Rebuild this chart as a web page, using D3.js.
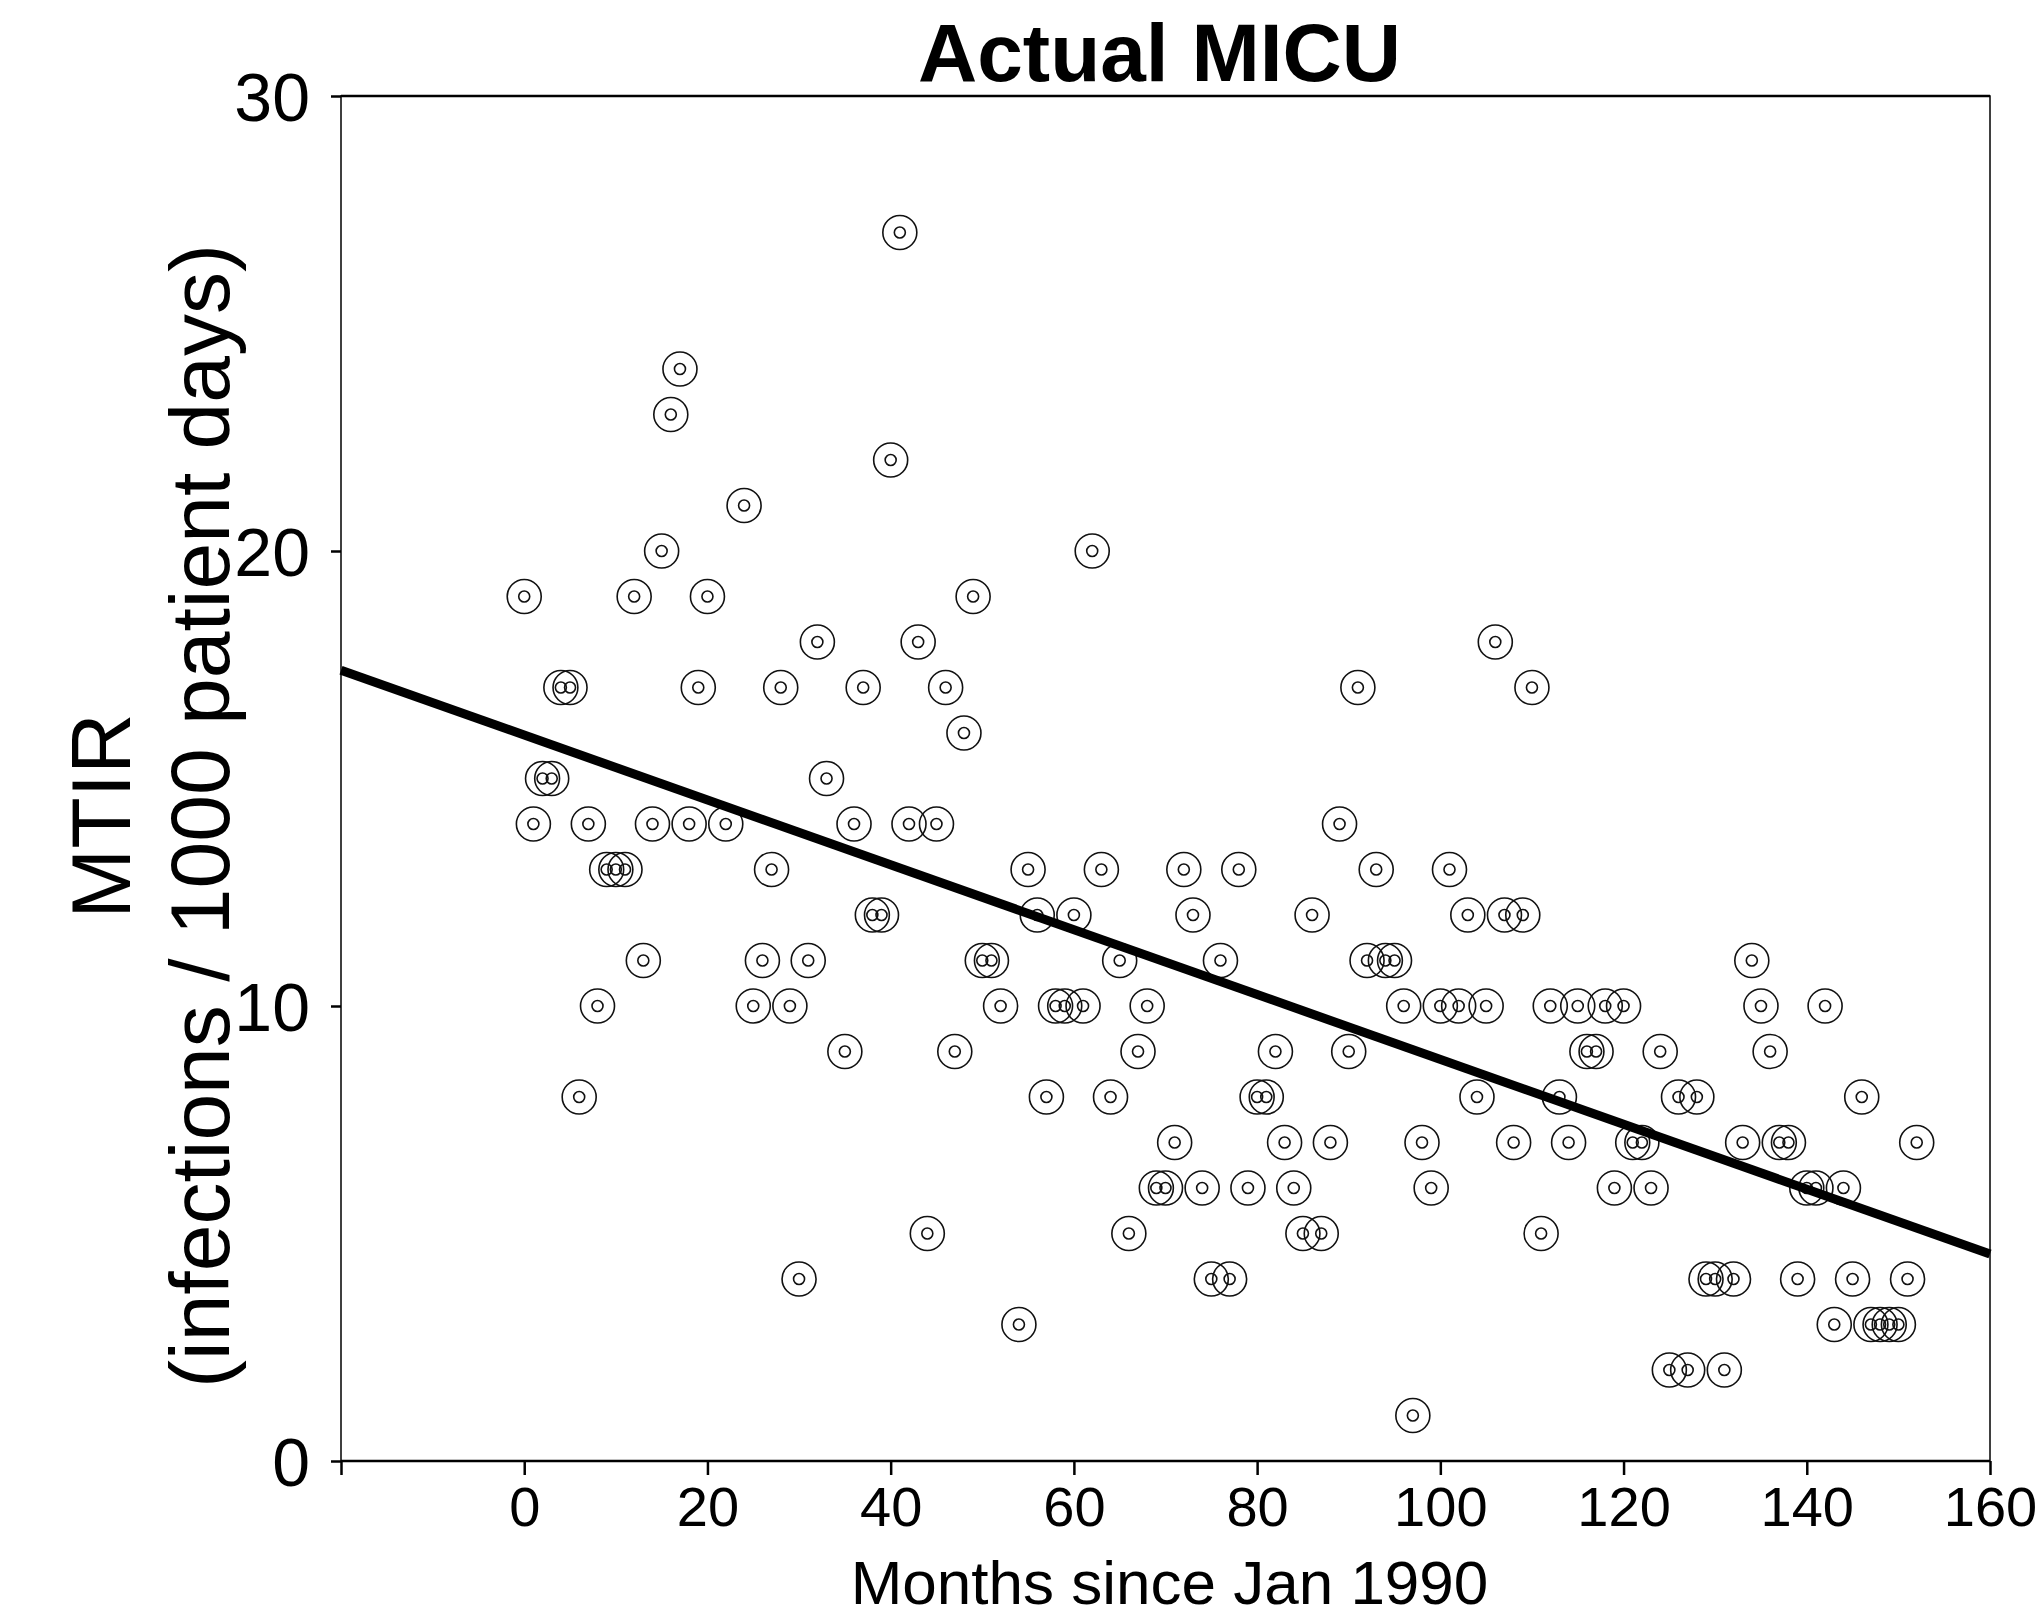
<!DOCTYPE html>
<html>
<head>
<meta charset="utf-8">
<script src="https://cdn.jsdelivr.net/npm/d3@7"></script>
<style>
    body { margin: 0; background: #fff; }
    svg { display: block; font-family: "Liberation Sans", Arial, sans-serif; }
</style>
</head>
<body>
<div class="chart-container"></div>
<script>
// months since Jan 1990 (a few months have no point)
var months = [
    0, 1, 2, 3, 4, 5, 6, 7, 8, 9, 10, 11, 12, 13, 14, 15, 16, 17, 18, 19, 20, 22, 24, 25, 26, 27, 28, 29,
    30, 31, 32, 33, 35, 36, 37, 38, 39, 40, 41, 42, 43, 44, 45, 46, 47, 48, 49, 50, 51, 52, 54, 55, 56, 57, 58, 59,
    60, 61, 62, 63, 64, 65, 66, 67, 68, 69, 70, 71, 72, 73, 74, 75, 76, 77, 78, 79, 80, 81, 82, 83, 84, 85, 86, 87, 88, 89,
    90, 91, 92, 93, 94, 95, 96, 97, 98, 99, 100, 101, 102, 103, 104, 105, 106, 107, 108, 109, 110, 111, 112, 113, 114, 115, 116, 117, 118, 119,
    120, 121, 122, 123, 124, 125, 126, 127, 128, 129, 130, 131, 132, 133, 134, 135, 136, 137, 138, 139, 140, 141, 142, 143, 144, 145, 146, 147, 148, 149,
    150, 151, 152
];
// MTIR, infections / 1000 patient days
var mtir = [
    19, 14, 15, 15, 17, 17, 8, 14, 10, 13, 13, 13, 19, 11, 14, 20, 23, 24, 14, 17, 19, 14, 21, 10, 11, 13, 17, 10,
    4, 11, 18, 15, 9, 14, 17, 12, 12, 22, 27, 14, 18, 5, 14, 17, 9, 16, 19, 11, 11, 10, 3, 13, 12, 8, 10, 10,
    12, 10, 20, 13, 8, 11, 5, 9, 10, 6, 6, 7, 13, 12, 6, 4, 11, 4, 13, 6, 8, 8, 9, 7, 6, 5, 12, 5, 7, 14,
    9, 17, 11, 13, 11, 11, 10, 1, 7, 6, 10, 13, 10, 12, 8, 10, 18, 12, 7, 12, 17, 5, 10, 8, 7, 10, 9, 9, 10, 6,
    10, 7, 7, 6, 9, 2, 8, 2, 8, 4, 4, 2, 4, 7, 11, 10, 9, 7, 7, 4, 6, 6, 10, 3, 6, 4, 8, 3, 3, 3,
    3, 4, 7
];
// fitted trend line, read at the two ends of the x range
var trendMonths = [-20, 160];
var trendValues = [17.38, 4.55];

var xTicks = [-20, 0, 20, 40, 60, 80, 100, 120, 140, 160];
var yTicks = [0, 10, 20, 30];

var chart = {
    draw: function () {
        this.defineComponents();
        this.addFrame();
        this.addAxises();
        this.addPoints();
        this.addTrend();
        this.addLabels();
    },
    defineComponents: function () {
        this.width = 2042;
        this.height = 1622;
        this.plot = { left: 341, right: 1990, top: 96, bottom: 1461 };

        this.svg = d3.select(".chart-container")
            .append("svg")
            .attr("width", this.width)
            .attr("height", this.height);

        this.xScale = d3.scaleLinear()
            .domain([-20, 160])
            .range([this.plot.left, this.plot.right]);

        this.yScale = d3.scaleLinear()
            .domain([0, 30])
            .range([this.plot.bottom, this.plot.top]);

        this.dataset = months.map(function (m, i) {
            return { month: m, value: mtir[i] };
        });
    },
    addFrame: function () {
        var p = this.plot;
        this.svg.append("rect")
            .attr("x", p.left)
            .attr("y", p.top)
            .attr("width", p.right - p.left)
            .attr("height", p.bottom - p.top)
            .attr("fill", "none")
            .attr("stroke", "#000")
            .attr("stroke-width", 1.5);
        // top and bottom edges look a bit heavier
        this.svg.append("line")
            .attr("x1", p.left).attr("x2", p.right)
            .attr("y1", p.top).attr("y2", p.top)
            .attr("stroke", "#000").attr("stroke-width", 2.5);
        this.svg.append("line")
            .attr("x1", p.left).attr("x2", p.right)
            .attr("y1", p.bottom).attr("y2", p.bottom)
            .attr("stroke", "#000").attr("stroke-width", 2.5);
    },
    addAxises: function () {
        var xAxis = d3.axisBottom(this.xScale)
            .tickValues(xTicks)
            .tickSize(14)
            .tickSizeOuter(0)
            .tickPadding(11)
            .tickFormat(function (d) { return d === -20 ? "" : d; });

        var gx = this.svg.append("g")
            .attr("transform", "translate(0," + this.plot.bottom + ")")
            .call(xAxis);
        gx.select(".domain").remove();
        gx.selectAll("line").attr("stroke", "#000").attr("stroke-width", 2.5);
        gx.selectAll("text")
            .attr("fill", "#000")
            .style("font-family", "'Liberation Sans', Arial, sans-serif")
            .style("font-size", "56px");

        var yAxis = d3.axisLeft(this.yScale)
            .tickValues(yTicks)
            .tickSize(10)
            .tickSizeOuter(0)
            .tickPadding(21);

        var gy = this.svg.append("g")
            .attr("transform", "translate(" + this.plot.left + ",0)")
            .call(yAxis);
        gy.select(".domain").remove();
        gy.selectAll("line").attr("stroke", "#000").attr("stroke-width", 2.5);
        gy.selectAll("text")
            .attr("fill", "#000")
            .attr("dy", "0.36em")
            .style("font-family", "'Liberation Sans', Arial, sans-serif")
            .style("font-size", "68px");
    },
    addPoints: function () {
        var that = this;
        var point = this.svg.selectAll(".point")
            .data(this.dataset)
            .enter()
            .append("g")
            .attr("class", "point")
            .attr("transform", function (d) {
                return "translate(" + that.xScale(d.month) + "," + that.yScale(d.value) + ")";
            });

        point.append("circle")
            .attr("r", 17)
            .attr("fill", "none")
            .attr("stroke", "#111")
            .attr("stroke-width", 1.6);

        point.append("circle")
            .attr("r", 5.5)
            .attr("fill", "none")
            .attr("stroke", "#111")
            .attr("stroke-width", 1.6);
    },
    addTrend: function () {
        var that = this;
        var trend = trendMonths.map(function (m, i) {
            return { month: m, value: trendValues[i] };
        });
        this.svg.append("path")
            .datum(trend)
            .attr("fill", "none")
            .attr("stroke", "#000")
            .attr("stroke-width", 9)
            .attr("d", d3.line()
                .x(function (d) { return that.xScale(d.month); })
                .y(function (d) { return that.yScale(d.value); })
            );
    },
    addLabels: function () {
        var midX = (this.plot.left + this.plot.right) / 2;

        this.svg.append("text")
            .attr("x", midX - 6)
            .attr("y", 81)
            .attr("text-anchor", "middle")
            .style("font-size", "82px")
            .style("font-weight", "bold")
            .text("Actual MICU");

        this.svg.append("text")
            .attr("x", midX + 4)
            .attr("y", 1604)
            .attr("text-anchor", "middle")
            .style("font-size", "62px")
            .text("Months since Jan 1990");

        var ylab = this.svg.append("text")
            .attr("transform", "translate(130,816) rotate(-90)")
            .attr("text-anchor", "middle")
            .style("font-size", "84px");
        ylab.append("tspan")
            .attr("x", 0)
            .attr("y", 0)
            .text("MTIR");
        ylab.append("tspan")
            .attr("x", 0)
            .attr("y", 99)
            .text("(infections / 1000 patient days)");
    }
};

chart.draw();
</script>
</body>
</html>
